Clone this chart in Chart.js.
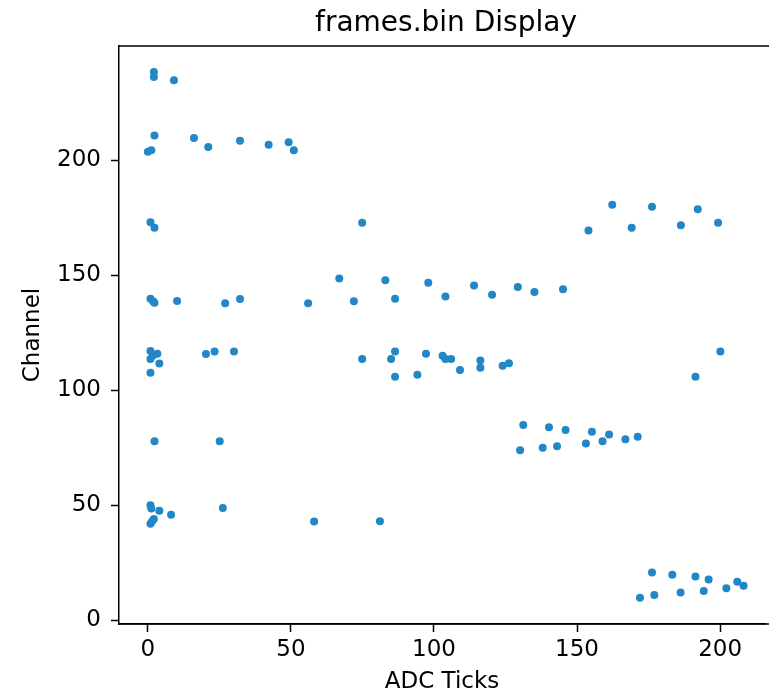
<!DOCTYPE html>
<html>
<head>
<meta charset="utf-8">
<title>frames.bin Display</title>
<script src="https://cdn.jsdelivr.net/npm/chart.js@4/dist/chart.umd.min.js"></script>
<style>
  html, body { margin:0; padding:0; background:#fff; overflow:hidden; }
  #wrap { position:relative; width:769px; height:694px; }
</style>
</head>
<body>
<div id="wrap"><canvas id="chart"></canvas></div>
<script>
// values
const adcTicks = [
  2.1, 2.1, 9.1, 2.3, 16.1, 21.1, 32.2, 42.2, 49.2, 51.0, 0.0, 1.2,
  0.9, 2.3, 0.9, 1.8, 2.3, 10.2, 27.0, 32.2, 56.0, 66.9,
  0.9, 3.3, 0.9, 1.8, 4.0, 0.9, 20.3, 23.3, 30.1,
  2.3, 25.1, 0.9, 1.2, 4.0, 8.1, 2.1, 0.9, 1.5, 26.2, 58.1, 81.1,
  74.9, 72.0, 83.0, 86.4, 98.0, 104.0, 114.0, 120.3, 129.3, 135.1, 145.1,
  74.9, 86.4, 85.0, 86.4, 94.2, 97.2, 103.0, 104.0, 106.0, 109.1, 116.2, 116.2, 124.0, 126.2,
  162.3, 176.2, 192.2, 154.0, 169.1, 186.3, 199.3, 200.1, 191.4,
  131.2, 140.2, 146.0, 155.2, 161.2, 171.2, 130.1, 138.0, 143.0, 153.1, 158.9, 166.9,
  176.2, 183.3, 191.4, 196.0, 206.0, 208.2, 172.0, 177.0, 186.2, 194.3, 202.2
];
const channels = [
  238.3, 236.1, 234.7, 210.7, 209.6, 205.7, 208.4, 206.7, 207.7, 204.3, 203.6, 204.3,
  173.0, 170.6, 139.7, 138.6, 138.0, 138.7, 137.8, 139.6, 137.8, 148.5,
  117.0, 115.8, 113.5, 115.0, 111.6, 107.5, 115.7, 116.8, 116.8,
  77.8, 77.8, 49.9, 48.5, 47.5, 45.8, 43.9, 41.9, 43.0, 48.7, 42.9, 43.0,
  172.7, 138.6, 147.8, 139.7, 146.7, 140.7, 145.5, 141.4, 144.8, 142.6, 143.8,
  113.5, 116.8, 113.5, 105.8, 106.7, 115.8, 114.9, 113.5, 113.5, 108.7, 112.9, 109.7, 110.6, 111.7,
  180.6, 179.7, 178.6, 169.4, 170.6, 171.7, 172.7, 116.8, 105.8,
  84.8, 83.8, 82.6, 81.9, 80.7, 79.7, 73.8, 74.9, 75.6, 76.8, 77.8, 78.6,
  20.7, 19.7, 19.0, 17.7, 16.7, 14.9, 9.7, 10.9, 12.0, 12.7, 13.8
];
const xTicks = [0, 50, 100, 150, 200];
const yTicks = [0, 50, 100, 150, 200];
const chartTitle = 'frames.bin Display';

const FONT = "'DejaVu Sans', sans-serif";

// top and bottom spines run to the picture edge (right spine falls just outside) + title over the axes
const framePlugin = {
  id: 'frame',
  afterDraw(chart){
    const a = chart.chartArea, c = chart.ctx;
    c.save();
    c.strokeStyle = '#000';
    c.lineWidth = 1.5;
    c.beginPath();
    c.moveTo(a.left, a.top);
    c.lineTo(chart.width, a.top);
    c.moveTo(a.left, a.bottom);
    c.lineTo(chart.width, a.bottom);
    c.stroke();
    c.fillStyle = '#000';
    c.font = '28px ' + FONT;
    c.textAlign = 'center';
    c.textBaseline = 'alphabetic';
    c.fillText(chartTitle, 446, 31);
    c.restore();
  }
};

const points = adcTicks.map((x, i) => ({x: x, y: channels[i]}));

new Chart(document.getElementById('chart'), {
  type: 'scatter',
  data: {
    datasets: [{
      data: points,
      backgroundColor: '#2187c6',
      borderWidth: 0,
      pointRadius: 4,
      pointHoverRadius: 4
    }]
  },
  options: {
    responsive: true,
    maintainAspectRatio: false,
    animation: false,
    layout: { padding: { top: 46, right: 0, left: 0, bottom: 0 } },
    plugins: { legend: { display: false }, tooltip: { enabled: false } },
    scales: {
      x: {
        type: 'linear',
        min: -10.1,
        max: 215.7,
        afterFit(s){ s.height = 70; },
        afterBuildTicks(s){ s.ticks = xTicks.map(v => ({value: v})); },
        grid: { drawOnChartArea: false, drawTicks: true, tickLength: 8, tickColor: '#000', tickWidth: 1.5 },
        border: { display: true, color: '#000', width: 1.5 },
        ticks: { color: '#000', padding: 4, font: { family: FONT, size: 23 }, maxRotation: 0 },
        title: { display: true, text: 'ADC Ticks', color: '#000', font: { family: FONT, size: 23, lineHeight: 1 }, padding: { top: 0, bottom: 0 } }
      },
      y: {
        type: 'linear',
        min: -1.7,
        max: 249.6,
        afterFit(s){ s.width = 119; },
        afterBuildTicks(s){ s.ticks = yTicks.map(v => ({value: v})); },
        grid: { drawOnChartArea: false, drawTicks: true, tickLength: 8, tickColor: '#000', tickWidth: 1.5 },
        border: { display: true, color: '#000', width: 1.5 },
        ticks: { color: '#000', padding: 10, font: { family: FONT, size: 23 } },
        title: { display: true, text: 'Channel', color: '#000', font: { family: FONT, size: 23, lineHeight: 1 }, padding: { top: 22, bottom: 0 } }
      }
    }
  },
  plugins: [framePlugin]
});
</script>
</body>
</html>
